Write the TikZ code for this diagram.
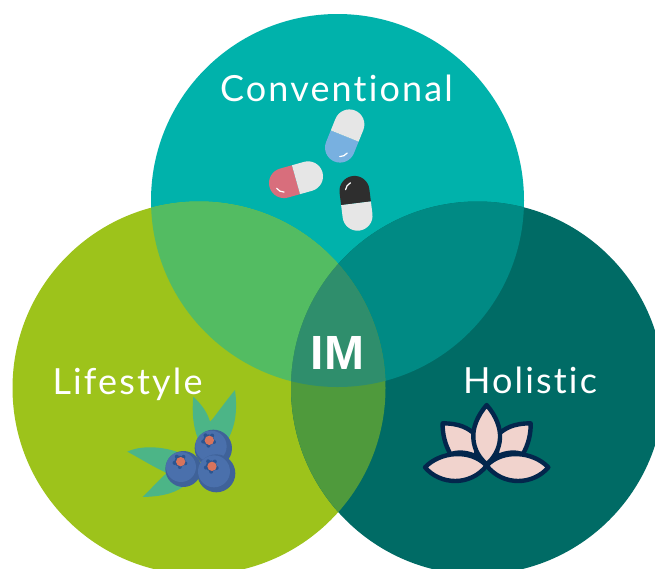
\documentclass[tikz,border=0pt]{standalone}
\usepackage{fontspec}
\setmainfont{Lato}
\newfontfamily\labelfont[LetterSpace=6,Ligatures=CommonOff]{Lato}
\newfontfamily\imfont{Liberation Sans}
\definecolor{topteal}{HTML}{00B2AB}
\definecolor{limegreen}{HTML}{9DC31B}
\definecolor{deepteal}{HTML}{006B65}
\definecolor{topleft}{HTML}{53BC62}
\definecolor{topright}{HTML}{008A84}
\definecolor{leftright}{HTML}{4F9A3C}
\definecolor{centerall}{HTML}{2F8E6C}
\definecolor{pillgrey}{HTML}{E6E6E6}
\definecolor{pillblue}{HTML}{78B0E0}
\definecolor{pillred}{HTML}{D86E7C}
\definecolor{pillblack}{HTML}{2E2E2E}
\definecolor{leafgreen}{HTML}{4CB587}
\definecolor{berry}{HTML}{4A70AC}
\definecolor{berrydark}{HTML}{3F6299}
\definecolor{berrystar}{HTML}{2B5590}
\definecolor{berrycore}{HTML}{D8745C}
\definecolor{lotusfill}{HTML}{F1D3CD}
\definecolor{lotusline}{HTML}{03264C}
\tikzset{
  venntext/.style={text=white,font=\labelfont\fontsize{36}{38}\selectfont,inner sep=0pt,anchor=center},
  imtext/.style={text=white,font=\imfont\bfseries\fontsize{48}{50}\selectfont,inner sep=0pt,anchor=center},
  petal/.style={fill=lotusfill,draw=lotusline,line width=4.4pt,line join=round},
  leaf/.style={fill=leafgreen,draw=none},
  shine/.style={draw=white,line width=1.2pt,line cap=round}
}
\newcommand{\pillshape}[4]{%
  \begin{scope}[shift={(#1,#2)},y=1pt,rotate=#3]
    \fill[#4] (0,-15) -- (-12.5,-15) arc (270:90:15) -- (0,15) -- cycle;
    \fill[pillgrey] (0,-15) -- (12.5,-15) arc (-90:90:15) -- (0,15) -- cycle;
    \draw[shine] (-12.5,0) ++(200:9) arc (200:255:9);
  \end{scope}}
\newcommand{\berryshape}[5]{%
  \fill[berrydark] (#1,#2) circle [radius=#3];
  \fill[berry] (#1-7,#2-6) circle [radius=#3-9];
  \foreach \a in {20,92,164,236,308}
    \fill[berrystar] (#4,#5) ++(\a:17) circle [radius=6];
  \fill[berrystar] (#4,#5) circle [radius=17];
  \fill[berrycore] (#4+2,#5+1) circle [radius=14];}
\begin{document}
\begin{tikzpicture}[x=1pt,y=-1pt]
\useasboundingbox (0,0) rectangle (655,568);
\fill[white] (0,0) rectangle (655,568);
\begin{scope}
  \clip (0,0) rectangle (655,568);
  \fill[topteal] (337.5,200.5) circle (186.5pt);
  \fill[limegreen] (199,388) circle (186.5pt);
  \fill[deepteal] (477.5,388) circle (186.5pt);
  \begin{scope}
    \clip (337.5,200.5) circle (186.5pt);
    \fill[topleft] (199,388) circle (186.5pt);
    \fill[topright] (477.5,388) circle (186.5pt);
  \end{scope}
  \begin{scope}
    \clip (199,388) circle (186.5pt);
    \fill[leftright] (477.5,388) circle (186.5pt);
    \clip (477.5,388) circle (186.5pt);
    \fill[centerall] (337.5,200.5) circle (186.5pt);
  \end{scope}
\end{scope}
\pillshape{344.7}{136}{68}{pillblue}
\pillshape{296}{179.7}{15.7}{pillred}
\pillshape{356}{203.3}{-82.9}{pillblack}
\begin{scope}[shift={(115,380)},x=0.3333pt,y=-0.3333pt]
  \fill[leaf] (235,50) .. controls (262,75) and (278,100) .. (285,125) -- (292,118) .. controls (310,95) and (335,60) .. (360,30) .. controls (368,90) and (362,140) .. (335,185) -- (255,190) .. controls (235,150) and (230,100) .. (235,50) -- cycle;
  \fill[leaf] (37,215) .. controls (80,195) and (140,200) .. (185,215) -- (170,285) .. controls (130,270) and (75,235) .. (37,215) -- cycle;
  \fill[leaf] (83,351) .. controls (110,325) and (135,295) .. (160,275) -- (205,320) .. controls (170,345) and (125,350) .. (83,351) -- cycle;
  \berryshape{295}{205}{56}{281}{180}
  \berryshape{205}{267}{54}{195}{244}
  \berryshape{304}{280}{57}{289}{258}
\end{scope}
\begin{scope}[shift={(410,395)},x=0.3333pt,y=-0.3333pt]
  \draw[petal] (98,85) .. controls (150,85) and (175,100) .. (195,118) -- (200,185) .. controls (170,170) and (140,170) .. (122,178) .. controls (105,150) and (97,115) .. (98,85) -- cycle;
  \draw[petal] (362,85) .. controls (310,85) and (285,100) .. (265,118) -- (260,185) .. controls (290,170) and (320,170) .. (338,178) .. controls (355,150) and (363,115) .. (362,85) -- cycle;
  \draw[petal] (45,217) .. controls (90,170) and (180,160) .. (230,212) .. controls (180,275) and (90,270) .. (45,217) -- cycle;
  \draw[petal] (415,217) .. controls (370,170) and (280,160) .. (230,212) .. controls (280,275) and (370,270) .. (415,217) -- cycle;
  \draw[petal] (230,30) .. controls (260,65) and (272,100) .. (270,130) .. controls (268,165) and (250,190) .. (230,208) .. controls (210,190) and (192,165) .. (190,130) .. controls (188,100) and (200,65) .. (230,30) -- cycle;
\end{scope}
\node[venntext] (conv) at (336.5,88) {Conventional};
\node[venntext] (life) at (127.5,384) {Lifestyle};
\node[venntext] (holi) at (530,380) {Holistic};
\node[imtext] (im) at (337.5,353) {IM};
\end{tikzpicture}
\end{document}
